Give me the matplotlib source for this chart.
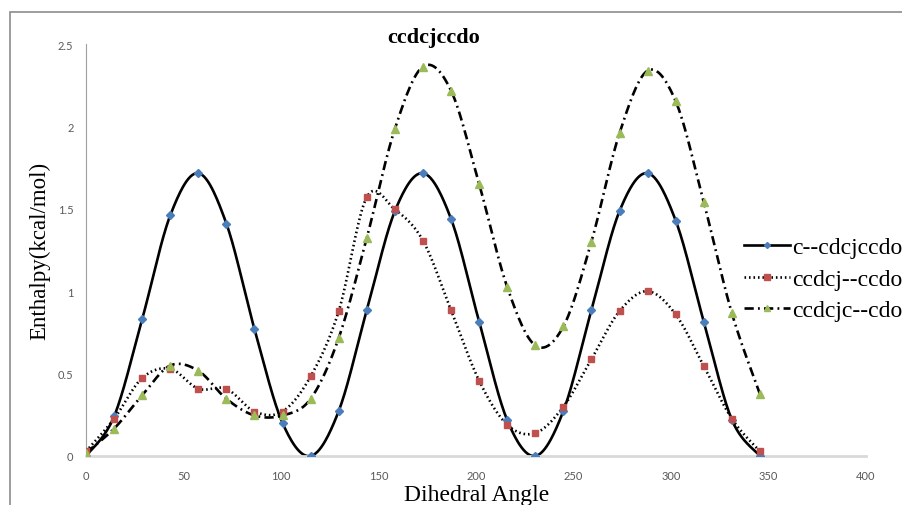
import numpy as np
import matplotlib
matplotlib.use("Agg")
import matplotlib.pyplot as plt
from matplotlib.patches import Rectangle

# dihedral scan, 25 points, 14.4 deg apart
angles = [i * 14.4 for i in range(25)]

c_cdcjccdo = [0.0, 0.24, 0.83, 1.46, 1.716, 1.41, 0.77, 0.20, 0.0, 0.273, 0.885, 1.486,
              1.716, 1.439, 0.816, 0.218, 0.0, 0.273, 0.885, 1.486, 1.716, 1.429, 0.816,
              0.22, 0.0]
ccdcj_ccdo = [0.028, 0.226, 0.473, 0.529, 0.408, 0.408, 0.27, 0.27, 0.483, 0.879, 1.571,
              1.496, 1.307, 0.885, 0.457, 0.19, 0.139, 0.299, 0.588, 0.879, 1.0, 0.859,
              0.546, 0.226, 0.028]
ccdcjc_cdo = [0.02, 0.166, 0.368, 0.549, 0.517, 0.347, 0.246, 0.246, 0.347, 0.716, 1.324,
              1.985, 2.363, 2.217, 1.651, 1.025, 0.671, 0.786, 1.301, 1.959, 2.338, 2.153,
              1.54, 0.867, 0.376]

labels = ["c--cdcjccdo", "ccdcj--ccdo", "ccdcjc--cdo"]
x_ticks = [0, 50, 100, 150, 200, 250, 300, 350, 400]
y_ticks = [0, 0.5, 1, 1.5, 2, 2.5]
y_tick_labels = ["0", "0.5", "1", "1.5", "2", "2.5"]


def smooth(x, y, n=30):
    # Excel-like smoothed line (Catmull-Rom bezier through the points)
    p = np.column_stack([x, y]).astype(float)
    out = []
    t = np.linspace(0, 1, n)[:, None]
    for i in range(len(p) - 1):
        p0 = p[i - 1] if i > 0 else p[i]
        p1 = p[i]
        p2 = p[i + 1]
        p3 = p[i + 2] if i + 2 < len(p) else p[i + 1]
        c1 = p1 + (p2 - p0) / 6
        c2 = p2 - (p3 - p1) / 6
        seg = ((1 - t) ** 3) * p1 + 3 * ((1 - t) ** 2) * t * c1 + 3 * (1 - t) * t ** 2 * c2 + t ** 3 * p2
        out.append(seg if i == 0 else seg[1:])
    out = np.vstack(out)
    return out[:, 0], out[:, 1]


serif = "Liberation Serif"

fig = plt.figure(figsize=(9.03, 5.06), dpi=100)
ax = fig.add_axes([86 / 903, 49 / 506, 780 / 903, 412 / 506])

# chart area border
fig.patches.append(Rectangle((10 / 903, -0.1), 1.2, 1.1 - 13 / 506, transform=fig.transFigure,
                             fill=False, edgecolor="#8c8c8c", linewidth=1.2))

styles = [
    dict(ls="-", marker="D", mfc="#4a7ebb", mec="#4a7ebb", ms=3.8),
    dict(ls=(0, (0.6, 1.1)), marker="s", mfc="#c0504d", mec="#c0504d", ms=4.8),
    dict(ls=(0, (3.5, 1.6, 0.7, 1.6)), marker="^", mfc="#9bbb59", mec="#9bbb59", ms=5.2),
]
series = [c_cdcjccdo, ccdcj_ccdo, ccdcjc_cdo]

for vals, st, lab in zip(series, styles, labels):
    sx, sy = smooth(angles, vals)
    ax.plot(sx, sy, color="black", lw=1.9, ls=st["ls"], dash_capstyle="butt", zorder=2)
    ax.plot(angles, vals, ls="none", marker=st["marker"], mfc=st["mfc"], mec=st["mec"],
            ms=st["ms"], zorder=3)

# legend proxies
handles = []
for st, lab in zip(styles, labels):
    h, = ax.plot([], [], color="black", lw=1.9, ls=st["ls"], dash_capstyle="butt",
                 marker=st["marker"], mfc=st["mfc"], mec=st["mec"], ms=st["ms"] * 0.8, label=lab)
    handles.append(h)
leg = fig.legend(handles=handles, loc="center left", bbox_to_anchor=(744 / 903, 1 - 280 / 506),
                 frameon=False, prop={"family": serif, "size": 17}, handlelength=1.95,
                 handletextpad=0.1, labelspacing=0.42, borderpad=0, borderaxespad=0)

ax.set_xlim(0, 400)
ax.set_ylim(0, 2.5)
ax.set_xticks(x_ticks)
ax.set_yticks(y_ticks)
ax.set_yticklabels(y_tick_labels)
ax.tick_params(length=0, labelsize=8, labelcolor="#595959")
ax.tick_params(axis="x", pad=10)
ax.tick_params(axis="y", pad=9)
for lab in ax.get_xticklabels() + ax.get_yticklabels():
    lab.set_family("Lato")

for s in ["top", "right"]:
    ax.spines[s].set_visible(False)
ax.spines["left"].set_color("#a0a0a0")
ax.spines["left"].set_linewidth(0.8)
ax.spines["bottom"].set_color("#d9d9d9")
ax.spines["bottom"].set_linewidth(2)

ax.set_xlabel("Dihedral Angle", family=serif, fontsize=17, va="baseline")
ax.xaxis.set_label_coords(0.501, -(501 - 457) / 412)
ax.set_ylabel("Enthalpy(kcal/mol)", family=serif, fontsize=16.5, va="center")
ax.yaxis.set_label_coords(-0.059, 0.499)

fig.text(434 / 903, 1 - 38 / 506, "ccdcjccdo", family=serif, fontsize=16, fontweight="bold",
         ha="center", va="center")

fig.savefig("out.png", dpi=100)
